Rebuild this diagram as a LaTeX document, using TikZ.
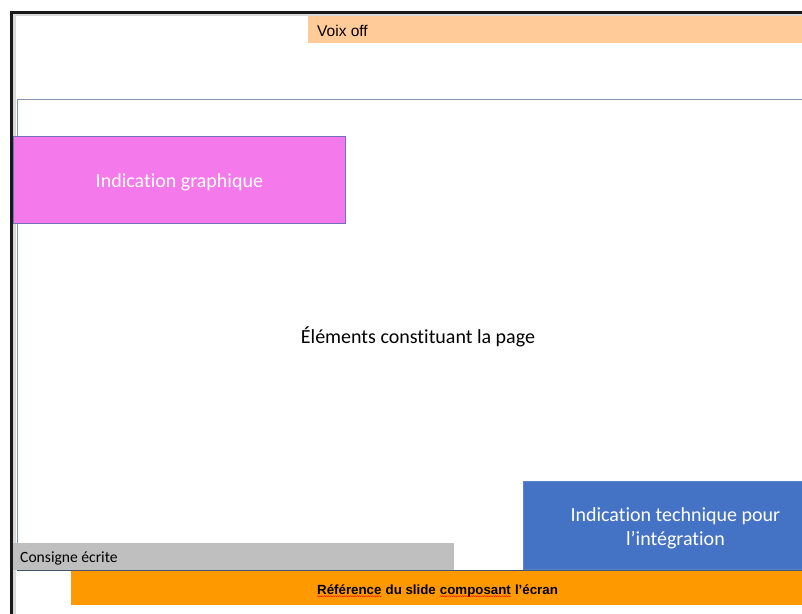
\documentclass[tikz,border=0pt]{standalone}
\usepackage{fontspec}
\setmainfont{Carlito}[Ligatures=NoCommon]
\newfontfamily\arialfont{Liberation Sans}
\usetikzlibrary{positioning,decorations.pathmorphing}

\definecolor{voixcol}{HTML}{FFCB99}
\definecolor{graphcol}{HTML}{F47AEC}
\definecolor{graphline}{HTML}{7470BC}
\definecolor{techcol}{HTML}{4472C4}
\definecolor{techline}{HTML}{5B83CC}
\definecolor{consignecol}{HTML}{BFBFBF}
\definecolor{refcol}{HTML}{FF9900}
\definecolor{pageline}{HTML}{8497B0}
\definecolor{pagebottom}{HTML}{44546A}

\begin{document}
\begin{tikzpicture}[x=1pt, y=-1pt,
    box/.style={rectangle, inner sep=0pt, anchor=north west},
    voixbox/.style={box, fill=voixcol},
    graphbox/.style={box, fill=graphcol, draw=graphline, line width=0.8pt},
    techbox/.style={box, fill=techcol, draw=techline, line width=0.8pt},
    boxtext/.style={text=white, align=center, font=\fontsize{20}{24}\selectfont},
    consignebox/.style={box, fill=consignecol},
    refbox/.style={box, fill=refcol},
    refword/.style={inner sep=0pt, font=\arialfont\bfseries\fontsize{13.3}{15}\selectfont},
    squig/.style={red, line width=0.4pt, decorate,
      decoration={snake, amplitude=0.5pt, segment length=2.2pt}},
    node distance=3.7pt]
   \useasboundingbox (0,0) rectangle (802,613);
   \clip (0,0) rectangle (802,613);

   % draw frame
   \draw[black!90, line width=3pt] (11,620) -- (11,12) -- (810,12);
   \draw[black!15, line width=2.5pt] (14.5,620) -- (14.5,15) -- (810,15);

   % draw page
   \node[box, draw=pageline, line width=0.8pt, minimum width=802pt, minimum height=471pt] (page) at (17,99) {};
   \draw[pagebottom, line width=1pt] (page.south west) -- (page.south east);
   \node[font=\fontsize{20}{24}\selectfont] (pagetxt) at (418,337) {Éléments constituant la page};

   % draw boxes
   \node[voixbox, minimum width=510pt, minimum height=27pt] (voix) at (308,16) {};
   \node[anchor=west, inner sep=0pt, font=\arialfont\fontsize{15.5}{18}\selectfont] (voixtxt) at ([xshift=9pt,yshift=-1pt]voix.west) {Voix off};

   \node[graphbox, minimum width=332pt, minimum height=87pt] (graph) at (13,136) {};
   \node[boxtext] (graphtxt) at ([yshift=-2pt]graph.center) {Indication graphique};

   \node[techbox, minimum width=304pt, minimum height=88pt] (tech) at (523,481) {};
   \node[boxtext] (techtxt) at ([yshift=-2.5pt]tech.center) {Indication technique pour\\l’intégration};

   \node[consignebox, minimum width=441pt, minimum height=27pt] (consigne) at (13,543) {};
   \node[anchor=west, inner sep=0pt, font=\fontsize{15.6}{18}\selectfont] (consignetxt) at ([xshift=7pt,yshift=-2pt]consigne.west) {Consigne écrite};

   \node[refbox, minimum width=740pt, minimum height=34pt] (ref) at (71,571) {};
   \node[refword, anchor=base west] (refa) at (317,594) {Référence};
   \node[refword, base right=of refa] (refb) {du slide};
   \node[refword, base right=of refb] (refc) {composant};
   \node[refword, base right=of refc] (refd) {l’écran};

   % draw spelling marks
   \foreach \w in {refa,refc}
     \draw[squig] ([yshift=-2.2pt]\w.base west) -- ([yshift=-2.2pt]\w.base east);
 \end{tikzpicture}
\end{document}
